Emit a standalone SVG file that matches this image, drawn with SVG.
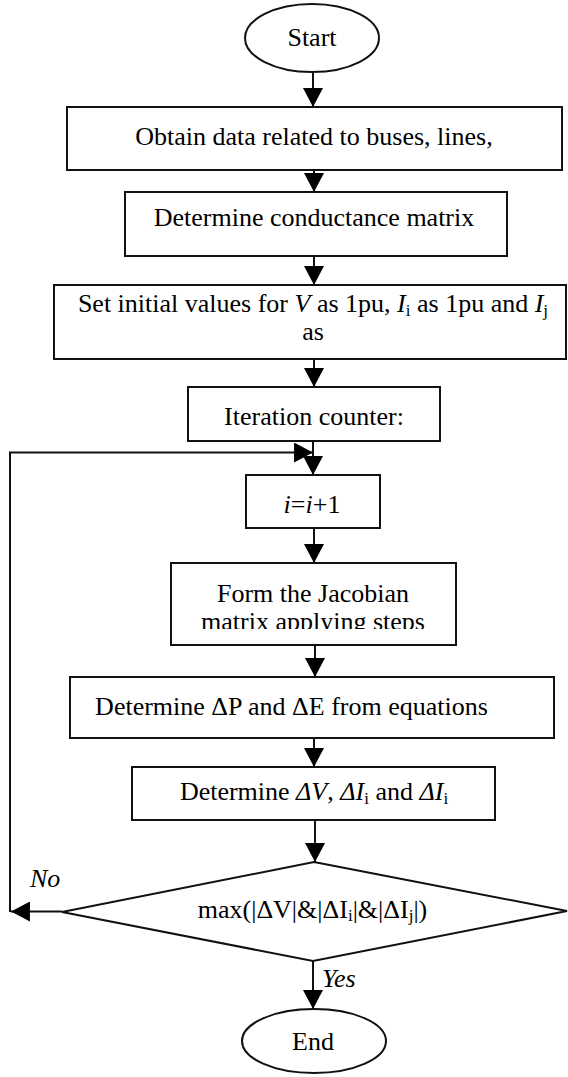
<svg xmlns="http://www.w3.org/2000/svg" width="568" height="1077" viewBox="0 0 568 1077">
<style>
.shape{fill:#fff;stroke:#111;stroke-width:2}
.t{font-family:"Liberation Serif","Times New Roman",serif;font-size:26px;fill:#000;text-anchor:middle}
.it{font-style:italic}
.sub{font-size:17px}
.conn{fill:none;stroke:#111;stroke-width:2}
</style>
<defs>
<marker id="arr" markerUnits="userSpaceOnUse" markerWidth="19" markerHeight="20" viewBox="0 0 18 19" refX="18" refY="9.5" orient="auto">
<path d="M0,0 L18,9.5 L0,19 z" fill="#000"/>
</marker>
<clipPath id="clipJ"><rect x="171" y="563" width="285" height="66"/></clipPath>
</defs>
<rect width="568" height="1077" fill="#fff"/>
<g id="connectors">
<path class="conn" d="M313,72 V107" marker-end="url(#arr)"/>
<path class="conn" d="M314,170 V192" marker-end="url(#arr)"/>
<path class="conn" d="M314,256 V285" marker-end="url(#arr)"/>
<path class="conn" d="M314,359 V387" marker-end="url(#arr)"/>
<path class="conn" d="M313,441 V475" marker-end="url(#arr)"/>
<path class="conn" d="M314,528 V563" marker-end="url(#arr)"/>
<path class="conn" d="M315,645 V677" marker-end="url(#arr)"/>
<path class="conn" d="M314,738 V767" marker-end="url(#arr)"/>
<path class="conn" d="M315,820 V862" marker-end="url(#arr)"/>
<path class="conn" d="M313,961 V1009" marker-end="url(#arr)"/>
<path class="conn" d="M62,911.5 H11" marker-end="url(#arr)"/>
<path class="conn" d="M10,912 V452.5 H313" marker-end="url(#arr)"/>
<text class="t it" x="30" y="887" style="text-anchor:start">No</text>
<text class="t it" x="322" y="987" style="text-anchor:start">Yes</text>
</g>
<g id="start">
<ellipse class="shape" cx="312" cy="38" rx="67" ry="34"/>
<text class="t" x="312" y="46">Start</text>
</g>
<g id="obtain">
<rect class="shape" x="67" y="107" width="495" height="63"/>
<text class="t" x="314" y="145">Obtain data related to buses, lines,</text>
</g>
<g id="conductance">
<rect class="shape" x="125" y="192" width="382" height="64"/>
<text class="t" x="314" y="226">Determine conductance matrix</text>
</g>
<g id="initial">
<rect class="shape" x="54" y="285" width="512" height="74"/>
<text class="t" x="313" y="312">Set initial values for <tspan class="it">V</tspan> as 1pu, <tspan class="it">I</tspan><tspan class="sub" dy="4">i</tspan><tspan dy="-4"> as 1pu and </tspan><tspan class="it">I</tspan><tspan class="sub" dy="4">j</tspan></text>
<text class="t" x="313" y="340">as</text>
</g>
<g id="counter">
<rect class="shape" x="188" y="387" width="252" height="54"/>
<text class="t" x="314" y="425">Iteration counter:</text>
</g>
<g id="increment">
<rect class="shape" x="246" y="475" width="134" height="53"/>
<text class="t" x="312" y="513"><tspan class="it">i</tspan>=<tspan class="it">i</tspan>+1</text>
</g>
<g id="jacobian">
<rect class="shape" x="171" y="563" width="285" height="82"/>
<g clip-path="url(#clipJ)">
<text class="t" x="313" y="602">Form the Jacobian</text>
<text class="t" x="313" y="630">matrix applying steps</text>
</g>
</g>
<g id="deltaPE">
<rect class="shape" x="70" y="677" width="484" height="61"/>
<text class="t" x="291.5" y="715">Determine ΔP and ΔE from equations</text>
</g>
<g id="deltaVI">
<rect class="shape" x="132" y="767" width="363" height="53"/>
<text class="t" x="314" y="800">Determine <tspan class="it">ΔV</tspan>, <tspan class="it">ΔI</tspan><tspan class="sub" dy="4">i</tspan><tspan dy="-4"> and </tspan><tspan class="it">ΔI</tspan><tspan class="sub" dy="4">i</tspan></text>
</g>
<g id="decision">
<polygon class="shape" points="314,862 567,911 313,961 62,912"/>
<text class="t" x="312.5" y="918">max(|ΔV|&amp;|ΔI<tspan class="sub" dy="3">i</tspan><tspan dy="-3">|&amp;|ΔI</tspan><tspan class="sub" dy="3">j</tspan><tspan dy="-3">|)</tspan></text>
</g>
<g id="end">
<ellipse class="shape" cx="314" cy="1041" rx="72" ry="32"/>
<text class="t" x="313" y="1050">End</text>
</g>
</svg>
